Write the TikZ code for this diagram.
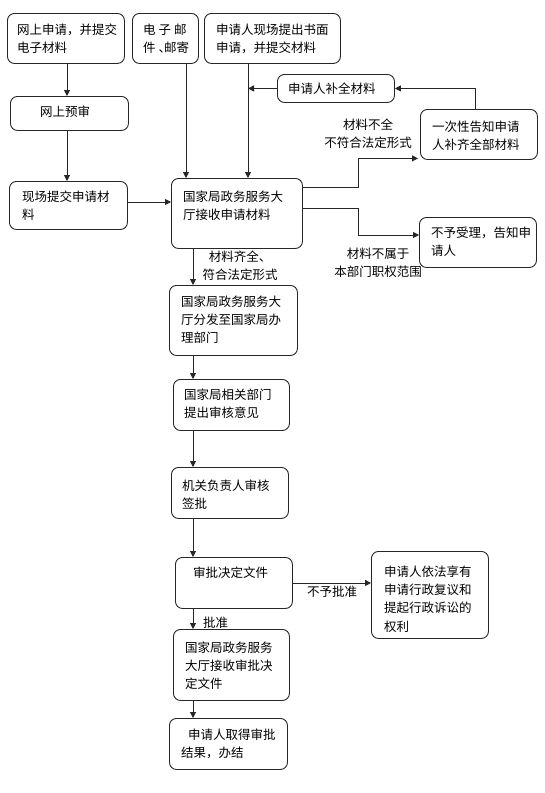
\documentclass[tikz,border=0pt]{standalone}
\usepackage{fontspec}
\setmainfont{Noto Sans CJK SC}
\usetikzlibrary{arrows.meta}
\newcommand{\bx}[5]{\node[box, anchor=north west, minimum width={(#4-#2)*1pt}, minimum height={(#5-#3)*1pt}] (#1) at (#2,#3) {};}
\newcommand{\tx}[4]{\node[txt, anchor=north west] (#1) at (#2,#3-8.7) {\strut #4};}
\begin{document}
\begin{tikzpicture}[x=1pt,y=-1pt,
  box/.style={draw=black!85, line width=0.9pt, rounded corners=7pt, inner sep=0pt},
  txt/.style={inner sep=0pt, align=left, font=\fontsize{12.5}{18.3}\selectfont},
  lbl/.style={inner sep=0pt, align=center, font=\fontsize{12.5}{18.3}\selectfont},
  arr/.style={draw=black!85, line width=0.9pt, -{Triangle[length=6pt,width=6pt]}},
  ln/.style={draw=black!85, line width=0.9pt}]
\useasboundingbox[fill=white] (0,0) rectangle (545,793);
% boxes
\bx{A}{7}{13}{124}{63}
\bx{B}{132}{13}{198}{63}
\bx{C}{204}{13}{340}{63}
\bx{D}{10}{96}{128}{130}
\bx{bq}{277}{74}{394}{102}
\bx{yc}{420}{109}{537}{159}
\bx{xc}{9}{181}{127}{229}
\bx{main}{171}{178}{302}{248}
\bx{nb}{419}{217}{536}{267}
\bx{ff}{169}{285}{297}{355}
\bx{xg}{173}{379}{289}{430}
\bx{jg}{171}{467}{288}{518}
\bx{sp}{175}{557}{292}{608}
\bx{ql}{371}{551}{488}{638}
\bx{js}{173}{629}{289}{700}
\bx{qd}{169}{718}{287}{769}
% texts
\tx{tA}{17}{30}{网上申请，并提交\\电子材料}
\tx{tB}{143}{30}{电\hspace{3pt}子\hspace{3pt}邮\\件\hspace{3pt}、\hspace{-7pt}邮寄}
\tx{tC}{216}{30}{申请人现场提出书面\\申请，并提交材料}
\tx{tD}{40}{112}{网上预审}
\tx{tbq}{288}{89}{申请人补全材料}
\tx{tyc}{432}{127}{一次性告知申请\\人补齐全部材料}
\tx{txc}{22}{197}{现场提交申请材\\料}
\tx{tmain}{183}{197}{国家局政务服务大\\厅接收申请材料}
\tx{tnb}{431}{233}{不予受理，告知申\\请人}
\tx{tff}{181}{302}{国家局政务服务大\\厅分发至国家局办\\理部门}
\tx{txg}{184}{395}{国家局相关部门\\提出审核意见}
\tx{tjg}{182}{486}{机关负责人审核\\签批}
\tx{tsp}{193}{573}{审批决定文件}
\tx{tql}{384}{572}{申请人依法享有\\申请行政复议和\\提起行政诉讼的\\权利}
\tx{tjs}{185}{648}{国家局政务服务\\大厅接收审批决\\定文件}
\tx{tqd}{181}{735}{\hspace{7pt}申请人取得审批\\结果，办结}
% labels
\node[lbl, anchor=north] (l1) at (368,125-8.7) {\strut 材料不全\\不符合法定形式};
\node[lbl, anchor=north] (l2) at (378,254-8.7) {\strut 材料不属于\\本部门职权范围};
\node[lbl, anchor=north] (l3) at (240,257-8.7) {\strut 材料齐全、\\符合法定形式};
\node[lbl, anchor=north] (l4) at (332,592-8.7) {\strut 不予批准};
\node[lbl, anchor=north west] (l5) at (203,623-8.7) {\strut 批准};
% connectors
\coordinate (Ab) at ([xshift=60pt]A.south west);
\coordinate (Db) at ([xshift=57pt]D.south west);
\coordinate (Bb) at ([xshift=54pt]B.south west);
\coordinate (Cb) at ([xshift=44pt]C.south west);
\draw[arr] (Ab) -- (Ab |- D.north);
\draw[arr] (Db) -- (Db |- xc.north);
\draw[arr] ([yshift=-21pt]xc.north east) -- ([yshift=-21pt]xc.north east -| main.west);
\draw[arr] (Bb) -- (Bb |- main.north);
\draw[arr] (Cb) -- (Cb |- main.north);
\draw[arr] (bq.west) -- (bq.west -| Cb);
\draw[arr] ([xshift=-4pt]yc.north) |- (bq.east);
\draw[arr] ([yshift=-9pt]main.north east) -- ++(56,0) |- ([xshift=-2pt,yshift=1.5pt]yc.south west);
\draw[arr] ([yshift=-30pt]main.north east) -- ++(56,0) |- ([yshift=-18pt]nb.north west);
\coordinate (Mb) at ([xshift=22pt]main.south west);
\draw[arr] (Mb) -- (Mb |- ff.north);
\draw[arr] (Mb |- ff.south) -- (Mb |- xg.north);
\draw[arr] (Mb |- xg.south) -- (Mb |- jg.north);
\draw[arr] (Mb |- jg.south) -- (Mb |- sp.north);
\draw[arr] (sp.east) -- (sp.east -| ql.west);
\draw[arr] (Mb |- sp.south) -- (Mb |- js.north);
\draw[arr] (Mb |- js.south) -- (Mb |- qd.north);
\end{tikzpicture}
\end{document}
